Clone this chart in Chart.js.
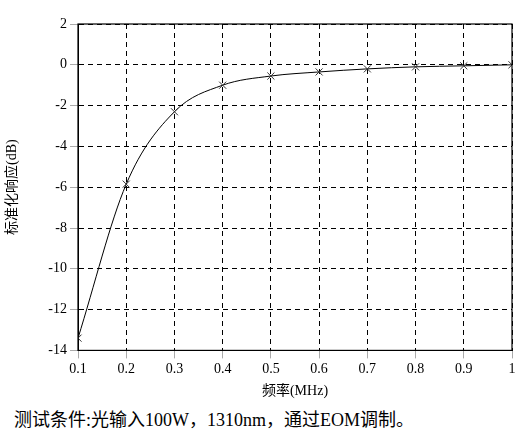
<!DOCTYPE html>
<html><head><meta charset="utf-8">
<script src="https://cdn.jsdelivr.net/npm/chart.js@4"></script>
<style>body{margin:0;background:#fff;width:522px;height:446px;overflow:hidden}
#wrap{position:relative;width:522px;height:404px}
#cap{position:absolute;left:14px;top:405px;font:18px "Liberation Serif","Noto Sans CJK SC",serif;color:#000;white-space:nowrap}</style>
</head><body>
<div id="wrap"><canvas id="c"></canvas></div>
<div id="cap">测试条件:光输入100W，1310nm，通过EOM调制。</div>
<script>
const freq=[0.1,0.2,0.3,0.4,0.5,0.6,0.7,0.8,0.9,1.0];
const resp=[-13.4,-5.85,-2.3,-1.0,-0.55,-0.35,-0.2,-0.1,-0.05,0];
const xTitle='频率(MHz)', yTitle='标准化响应(dB)';
const F='"Liberation Serif","Noto Sans CJK SC",serif';
new Chart(document.getElementById('c'),{type:'line',
data:{datasets:[{data:freq.map((x,i)=>({x,y:resp[i]})),borderColor:'#000',borderWidth:1,
cubicInterpolationMode:'monotone',pointStyle:'crossRot',pointRadius:5,pointBorderColor:'#333',pointBorderWidth:1}]},
options:{responsive:true,maintainAspectRatio:false,animation:false,
layout:{padding:{left:0,right:10,top:24,bottom:0}},
plugins:{legend:{display:false},tooltip:{enabled:false}},
scales:{
x:{type:'linear',min:0.1,max:1,ticks:{stepSize:0.1,color:'#000',font:{family:F,size:14},callback:v=>+v.toFixed(1)},
grid:{color:'#000',tickColor:'#aaa',tickLength:8,lineWidth:1},border:{display:true,color:'#000',dash:[5,4]},
title:{display:true,text:xTitle,color:'#000',font:{family:F,size:14},padding:{top:2}}},
y:{min:-14,max:2,ticks:{stepSize:2,color:'#000',font:{family:F,size:14}},
grid:{color:'#000',tickColor:'#aaa',tickLength:8},border:{display:true,color:'#000',dash:[5,4]},
title:{display:true,text:yTitle,color:'#000',font:{family:F,size:14}},afterFit:s=>{s.width=78}}
}},
plugins:[{id:'frame',afterDraw(c){const a=c.chartArea,x=c.ctx;x.save();x.strokeStyle='#000';x.lineWidth=1.2;x.setLineDash([]);x.strokeRect(a.left,a.top,a.right-a.left,a.bottom-a.top);x.restore();}}]
});
</script></body></html>
